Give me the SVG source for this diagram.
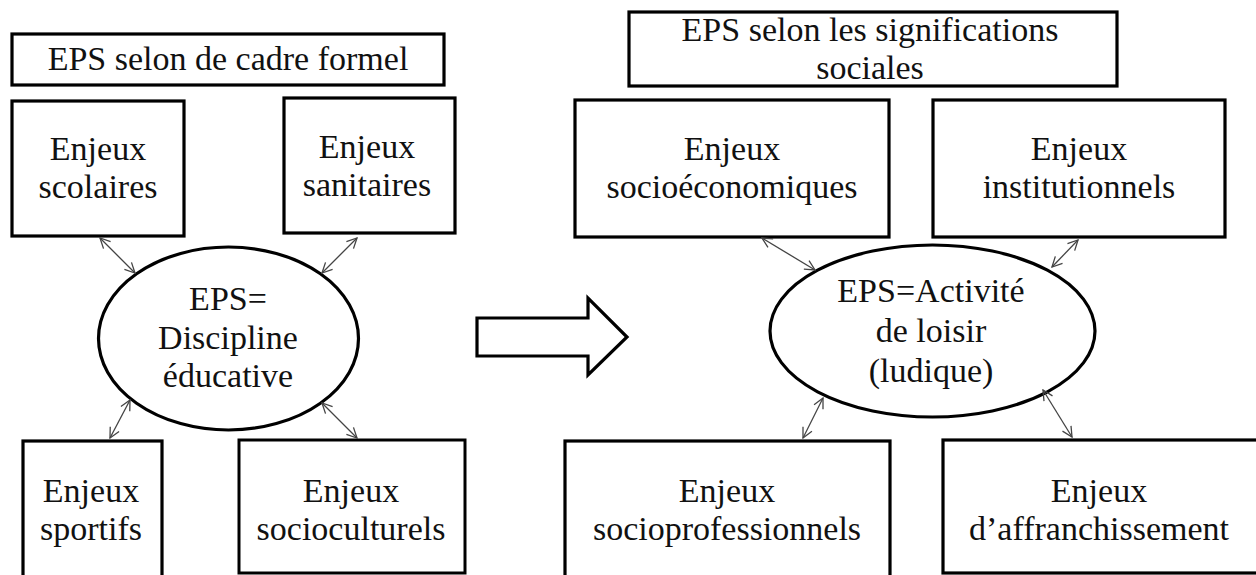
<svg xmlns="http://www.w3.org/2000/svg" width="1256" height="575" viewBox="0 0 1256 575">
<style>
.box{fill:#fff;stroke:#000;stroke-width:3.2}
.t{font-family:'Liberation Serif','Times New Roman',serif;font-size:34px;fill:#111;text-anchor:middle}
.c{stroke:#444;stroke-width:1.3;fill:none;marker-start:url(#ah);marker-end:url(#ah)}
</style>
<defs>
<marker id="ah" viewBox="0 0 12 12" refX="11" refY="6" markerWidth="12" markerHeight="12" markerUnits="userSpaceOnUse" orient="auto-start-reverse">
<path d="M1,1 L11,6 L1,11" fill="none" stroke="#444" stroke-width="1.3"/>
</marker>
</defs>
<rect width="1256" height="575" fill="#fff"/>
<g id="title-left"><rect class="box" x="12" y="34" width="432" height="51"/><text class="t" x="228" y="70">EPS selon de cadre formel</text></g>
<g id="scolaires"><rect class="box" x="12" y="101" width="172" height="135"/><text class="t" x="98" y="160">Enjeux</text><text class="t" x="98" y="198">scolaires</text></g>
<g id="sanitaires"><rect class="box" x="284" y="98" width="171" height="135"/><text class="t" x="367" y="158">Enjeux</text><text class="t" x="367" y="196">sanitaires</text></g>
<g id="ellipse-left"><ellipse class="box" cx="228.5" cy="338.5" rx="130" ry="91.5"/><text class="t" x="228" y="310">EPS=</text><text class="t" x="228" y="349">Discipline</text><text class="t" x="228" y="387">éducative</text></g>
<g id="sportifs"><rect class="box" x="23" y="441" width="139" height="150"/><text class="t" x="91" y="502">Enjeux</text><text class="t" x="91" y="540">sportifs</text></g>
<g id="socioculturels"><rect class="box" x="239" y="440" width="226" height="133" style="stroke-width:3"/><text class="t" x="351" y="502">Enjeux</text><text class="t" x="351" y="540">socioculturels</text></g>
<g id="big-arrow"><path class="box" d="M477,318 L588,318 L588,298 L627,337 L588,375 L588,356 L477,356 Z"/></g>
<g id="title-right"><rect class="box" x="629" y="12" width="488" height="74"/><text class="t" x="870" y="41">EPS selon les significations</text><text class="t" x="870" y="79">sociales</text></g>
<g id="socioeconomiques"><rect class="box" x="575" y="100" width="314" height="137"/><text class="t" x="732" y="160">Enjeux</text><text class="t" x="732" y="198">socioéconomiques</text></g>
<g id="institutionnels"><rect class="box" x="933" y="100" width="292" height="137"/><text class="t" x="1079" y="160">Enjeux</text><text class="t" x="1079" y="198">institutionnels</text></g>
<g id="ellipse-right"><ellipse class="box" cx="932.5" cy="331" rx="162.5" ry="86"/><text class="t" x="931" y="302">EPS=Activité</text><text class="t" x="931" y="342">de loisir</text><text class="t" x="931" y="382">(ludique)</text></g>
<g id="socioprofessionnels"><rect class="box" x="565" y="441" width="325" height="150"/><text class="t" x="727" y="502">Enjeux</text><text class="t" x="727" y="540">socioprofessionnels</text></g>
<g id="affranchissement"><rect class="box" x="943" y="440" width="316" height="133"/><text class="t" x="1099" y="502">Enjeux</text><text class="t" x="1099" y="540">d’affranchissement</text></g>
<g id="connectors">
<line class="c" x1="100" y1="238" x2="135" y2="273"/>
<line class="c" x1="357" y1="238" x2="322" y2="273"/>
<line class="c" x1="130" y1="400" x2="110" y2="438"/>
<line class="c" x1="322" y1="403" x2="357" y2="438"/>
<line class="c" x1="762" y1="238" x2="815" y2="270"/>
<line class="c" x1="1078" y1="240" x2="1052" y2="267"/>
<line class="c" x1="823" y1="398" x2="803" y2="438"/>
<line class="c" x1="1043" y1="390" x2="1072" y2="437"/>
</g>
</svg>
